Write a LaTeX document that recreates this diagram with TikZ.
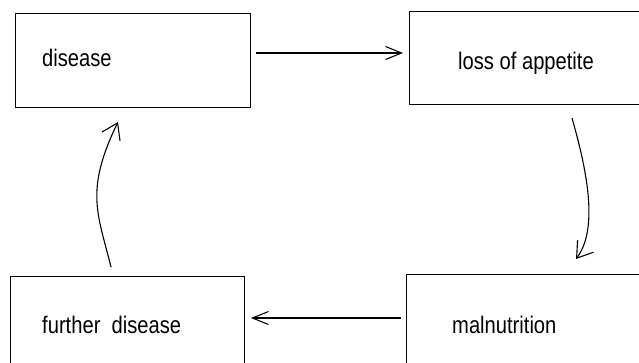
\documentclass[tikz,border=0pt]{standalone}
\usepackage{fontspec}
\usetikzlibrary{arrows.meta,calc}
\newfontfamily\labelfont[FakeStretch=0.84]{Liberation Sans}

\tikzset{
  stage/.style={draw, line width=1pt, rectangle, inner sep=0pt, anchor=north west},
  caption/.style={anchor=base west, inner sep=0pt, font=\labelfont\fontsize{24}{28}\selectfont},
  link/.style={line width=1.1pt, -{Straight Barb[length=16pt,width=13pt]}},
  curvedlink/.style={line width=1.1pt, -{Straight Barb[length=15pt,width=20pt]}},
}

\begin{document}
\begin{tikzpicture}[x=1pt, y=-1pt]
  \useasboundingbox (0,0) rectangle (639,363);
  \clip (0,0) rectangle (639,363);

  % the four stages of the cycle
  \node[stage, minimum width=235pt, minimum height=94pt]  (disease) at (15,13)  {};
  \node[stage, minimum width=241pt, minimum height=93pt]  (loss)    at (409,11) {};
  \node[stage, minimum width=244pt, minimum height=101pt] (mal)     at (406,274) {};
  \node[stage, minimum width=234pt, minimum height=99pt]  (further) at (10,276) {};

  \node[caption] (tdisease) at (42,67)  {disease};
  \node[caption] (tloss)    at (458,70) {loss of appetite};
  \node[caption] (tmal)     at (452,333) {malnutrition};
  \node[caption] (tfurther) at (42,333) {further\ \ disease};

  % connectors
  \draw[link] ($(disease.north east)+(5,40)$) -- ($(loss.north west)+(-6,42)$);
  \draw[curvedlink] ($(loss.south west)+(163,13)$)
      .. controls (585,164) and (600,227) .. ($(mal.north west)+(170,-15)$);
  \draw[link] ($(mal.north west)+(-5,44)$) -- ($(further.north east)+(6,42)$);
  \draw[curvedlink] ($(further.north west)+(101,-9)$)
      .. controls (97.8,213.6) and (84.5,191) .. ($(disease.south west)+(103,14)$);
\end{tikzpicture}
\end{document}
